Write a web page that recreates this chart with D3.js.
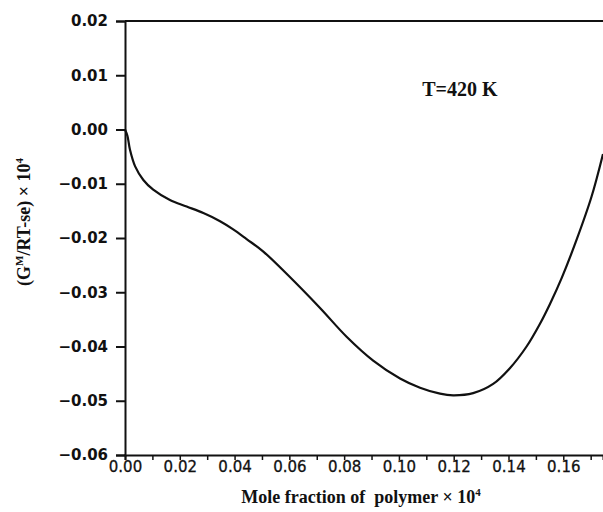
<!DOCTYPE html>
<html><head><meta charset="utf-8">
<script src="https://cdn.jsdelivr.net/npm/d3@7"></script>
<style>html,body{margin:0;padding:0;background:#fff;}svg{display:block;}</style>
</head><body>
<svg id="c" width="603" height="512"></svg>
<script>
const xValues = [0, 0.0009, 0.0018, 0.0037, 0.0067, 0.0103, 0.0164, 0.0225, 0.0286, 0.0347, 0.0395, 0.0444, 0.0505, 0.059, 0.0712, 0.0809, 0.0906, 0.1004, 0.1077, 0.115, 0.1198, 0.1271, 0.1344, 0.1405, 0.1466, 0.1515, 0.1551, 0.1594, 0.1648, 0.1703, 0.1745];
const yValues = [0, -0.0012, -0.0037, -0.0068, -0.0093, -0.0111, -0.0130, -0.0142, -0.0154, -0.0169, -0.0184, -0.0202, -0.0225, -0.0266, -0.0329, -0.0382, -0.0426, -0.0459, -0.0476, -0.0487, -0.0490, -0.0486, -0.0469, -0.0440, -0.0400, -0.0358, -0.0322, -0.0274, -0.0204, -0.0124, -0.0045];
const xTicks = [0, 0.01, 0.02, 0.03, 0.04, 0.05, 0.06, 0.07, 0.08, 0.09, 0.10, 0.11, 0.12, 0.13, 0.14, 0.15, 0.16, 0.17];
const xTickLabels = [0, 0.02, 0.04, 0.06, 0.08, 0.10, 0.12, 0.14, 0.16];
const yTicks = [0.02, 0.01, 0.00, -0.01, -0.02, -0.03, -0.04, -0.05, -0.06];
const annotation = "T=420 K";

const svg = d3.select("#c");
const x = d3.scaleLinear().domain([0, 0.1745]).range([125, 603]);
const y = d3.scaleLinear().domain([-0.06, 0.02]).range([455, 21]);
const fmtNeg = v => (v < 0 ? "\u2212" : "") + Math.abs(v).toFixed(2);

// top frame
svg.append("line").attr("x1", x(0)).attr("x2", 603).attr("y1", y(0.02)).attr("y2", y(0.02))
  .attr("stroke", "#111").attr("stroke-width", 2);

// y axis
const ya = svg.append("g").attr("transform", `translate(${x(0)},0)`)
  .call(d3.axisLeft(y).tickValues(yTicks).tickSize(9).tickPadding(8).tickFormat(fmtNeg));
ya.select(".domain").attr("stroke", "#111").attr("stroke-width", 2);
ya.selectAll(".tick line").attr("stroke", "#111").attr("stroke-width", 2);
ya.selectAll(".tick text").attr("font-family", "DejaVu Sans").attr("font-weight", "bold")
  .attr("font-size", 15).attr("fill", "#111");

// x axis
const xa = svg.append("g").attr("transform", `translate(0,${y(-0.06)})`)
  .call(d3.axisBottom(x).tickValues(xTicks).tickSize(5).tickPadding(-3)
    .tickFormat(d => xTickLabels.some(v => Math.abs(v - d) < 1e-9) ? d.toFixed(2) : ""));
xa.select(".domain").attr("stroke", "#111").attr("stroke-width", 2);
xa.selectAll(".tick line").attr("stroke", "#111").attr("stroke-width", 1.5);
xa.selectAll(".tick text").attr("font-family", "DejaVu Sans").attr("font-size", 15)
  .attr("fill", "#111").attr("stroke", "#111").attr("stroke-width", 0.3).attr("dy", "1.0em");

// curve
const pts = xValues.map((v, i) => [v, yValues[i]]);
svg.append("path").datum(pts)
  .attr("d", d3.line().x(d => x(d[0])).y(d => y(d[1])).curve(d3.curveCatmullRom.alpha(0.5)))
  .attr("fill", "none").attr("stroke", "#111").attr("stroke-width", 2.2);

// annotation
svg.append("text").attr("x", x(0.1085)).attr("y", y(0.0061)).text(annotation)
  .attr("font-family", "Liberation Serif").attr("font-weight", "bold").attr("font-size", 20).attr("fill", "#111");

// x title
const xt = svg.append("text").attr("x", 361).attr("y", 503).attr("text-anchor", "middle")
  .attr("font-family", "Liberation Serif").attr("font-weight", "bold").attr("font-size", 18).attr("fill", "#111");
xt.append("tspan").text("Mole fraction of \u00a0polymer \u00d7 10");
xt.append("tspan").text("4").attr("font-size", 11).attr("dy", -7);

// y title
const yt = svg.append("text").attr("transform", "translate(30,222) rotate(-90)").attr("text-anchor", "middle")
  .attr("font-family", "Liberation Serif").attr("font-weight", "bold").attr("font-size", 18).attr("fill", "#111");
yt.append("tspan").text("(G");
yt.append("tspan").text("M").attr("font-size", 11).attr("dy", -7);
yt.append("tspan").text("/RT-se) \u00d7 10").attr("dy", 7);
yt.append("tspan").text("4").attr("font-size", 11).attr("dy", -7);
</script>
</body></html>
